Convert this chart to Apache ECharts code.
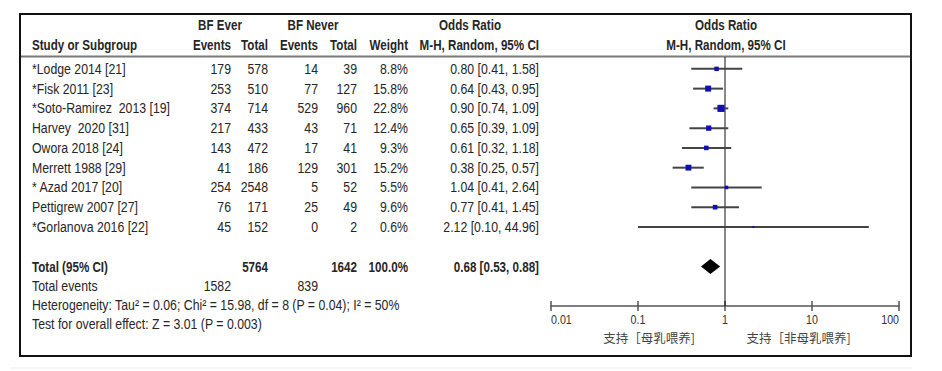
<!DOCTYPE html>
<html><head><meta charset="utf-8">
<script src="https://cdn.jsdelivr.net/npm/echarts@6/dist/echarts.min.js"></script>
<style>html,body{margin:0;padding:0;background:#fff}#c{width:942px;height:371px}</style>
</head><body><div id="c"></div>
<script>
// ---------- data ----------
const studies = ['*Lodge 2014 [21]', '*Fisk 2011 [23]', '*Soto-Ramirez  2013 [19]', 'Harvey  2020 [31]', 'Owora 2018 [24]', 'Merrett 1988 [29]', '* Azad 2017 [20]', 'Pettigrew 2007 [27]', '*Gorlanova 2016 [22]'];
const everEvents = [179, 253, 374, 217, 143, 41, 254, 76, 45];
const everTotal = [578, 510, 714, 433, 472, 186, 2548, 171, 152];
const neverEvents = [14, 77, 529, 43, 17, 129, 5, 25, 0];
const neverTotal = [39, 127, 960, 71, 41, 301, 52, 49, 2];
const weights = [8.8, 15.8, 22.8, 12.4, 9.3, 15.2, 5.5, 9.6, 0.6];
const oddsRatio = [0.80, 0.64, 0.90, 0.65, 0.61, 0.38, 1.04, 0.77, 2.12];
const ciLow = [0.41, 0.43, 0.74, 0.39, 0.32, 0.25, 0.41, 0.41, 0.10];
const ciHigh = [1.58, 0.95, 1.09, 1.09, 1.18, 0.57, 2.64, 1.45, 44.96];
const totalOR = [0.68, 0.53, 0.88];
const totalEver = 5764, totalNever = 1642, totalWeight = '100.0%';
const eventsEver = 1582, eventsNever = 839;
const heterogeneity = 'Heterogeneity: Tau² = 0.06; Chi² = 15.98, df = 8 (P = 0.04); I² = 50%';
const overallTest = 'Test for overall effect: Z = 3.01 (P = 0.003)';
const axisTicks = [0.01, 0.1, 1, 10, 100];
const favourLeft = '支持［母乳喂养]';
const favourRight = '支持［非母乳喂养]';

// ---------- layout ----------
const FONT = '"Liberation Sans",Arial,sans-serif';
const CJK = '"Noto Sans CJK SC",sans-serif';
const FS = 15, NARROW = 0.82, NARROW_BOLD = 0.775;
const TXT = '#262626';
const col = {name: 32, evE: 231, totE: 268, evN: 318, totN: 357, w: 408, or: 539, hdrEver: 220, hdrNever: 313, hdrOR: 470, plotHdr: 726, favL: 649, favR: 798.5};
const ROW_H1 = -2.22, ROW_H2 = -1.2, ROW_TOTAL = 10, ROW_EVENTS = 11, ROW_HET = 11.97, ROW_TEST = 12.93, ROW_FAV = 13.57;
const Y_MIN = -0.6, Y_MAX = 12;
const gridTop = 57, gridBottom = 65;

const fmt2 = v => v.toFixed(2);
const fmtCI = (o, l, h) => fmt2(o) + ' [' + fmt2(l) + ', ' + fmt2(h) + ']';

// table text cells: [x, row, text, align, kind]  kind: 0 normal, 1 bold, 2 cjk
const cells = [];
function cell(x, row, text, align, kind) { cells.push([x, row, String(text), align, kind || 0]); }
cell(col.hdrEver, ROW_H1, 'BF Ever', 'center', 1);
cell(col.hdrNever, ROW_H1, 'BF Never', 'center', 1);
cell(col.hdrOR, ROW_H1, 'Odds Ratio', 'center', 1);
cell(col.plotHdr, ROW_H1, 'Odds Ratio', 'center', 1);
cell(col.name, ROW_H2, 'Study or Subgroup', 'left', 1);
cell(col.evE, ROW_H2, 'Events', 'right', 1);
cell(col.totE, ROW_H2, 'Total', 'right', 1);
cell(col.evN, ROW_H2, 'Events', 'right', 1);
cell(col.totN, ROW_H2, 'Total', 'right', 1);
cell(col.w, ROW_H2, 'Weight', 'right', 1);
cell(col.or, ROW_H2, 'M-H, Random, 95% CI', 'right', 1);
cell(col.plotHdr, ROW_H2, 'M-H, Random, 95% CI', 'center', 1);
studies.forEach((s, i) => {
  cell(col.name, i, s, 'left');
  cell(col.evE, i, everEvents[i], 'right');
  cell(col.totE, i, everTotal[i], 'right');
  cell(col.evN, i, neverEvents[i], 'right');
  cell(col.totN, i, neverTotal[i], 'right');
  cell(col.w, i, weights[i].toFixed(1) + '%', 'right');
  cell(col.or, i, fmtCI(oddsRatio[i], ciLow[i], ciHigh[i]), 'right');
});
cell(col.name, ROW_TOTAL, 'Total (95% CI)', 'left', 1);
cell(col.totE, ROW_TOTAL, totalEver, 'right', 1);
cell(col.totN, ROW_TOTAL, totalNever, 'right', 1);
cell(col.w, ROW_TOTAL, totalWeight, 'right', 1);
cell(col.or, ROW_TOTAL, fmtCI(totalOR[0], totalOR[1], totalOR[2]), 'right', 1);
cell(col.name, ROW_EVENTS, 'Total events', 'left');
cell(col.evE, ROW_EVENTS, eventsEver, 'right');
cell(col.evN, ROW_EVENTS, eventsNever, 'right');
cell(col.name, ROW_HET, heterogeneity, 'left');
cell(col.name, ROW_TEST, overallTest, 'left');
cell(col.favL, ROW_FAV, favourLeft, 'center', 2);
cell(col.favR, ROW_FAV, favourRight, 'center', 2);

const forestData = studies.map((s, i) => [oddsRatio[i], i, ciLow[i], ciHigh[i], weights[i]]);

const chart = echarts.init(document.getElementById('c'), null, {renderer: 'svg'});
chart.setOption({
  animation: false,
  backgroundColor: '#fff',
  grid: [
    {left: 0, right: 0, top: gridTop, bottom: gridBottom},
    {left: 551, right: 43, top: gridTop, bottom: gridBottom}
  ],
  xAxis: [
    {gridIndex: 0, type: 'value', min: 0, max: 942, show: false},
    {gridIndex: 1, type: 'log', logBase: 10, min: 0.01, max: 100, position: 'bottom',
      axisLine: {show: true, onZero: false, lineStyle: {color: '#555', width: 1.5}},
      axisTick: {show: true, inside: false, length: 5, lineStyle: {color: '#555', width: 1.5}},
      axisLabel: {show: false},
      splitLine: {show: false}},
    {gridIndex: 1, type: 'log', logBase: 10, min: 0.01, max: 100, position: 'bottom',
      axisLine: {show: false, onZero: false},
      axisTick: {show: true, inside: true, length: 5, lineStyle: {color: '#555', width: 1.5}},
      axisLabel: {show: false}, splitLine: {show: false}}
  ],
  yAxis: [
    {gridIndex: 0, type: 'value', inverse: true, min: Y_MIN, max: Y_MAX, show: false},
    {gridIndex: 1, type: 'value', inverse: true, min: Y_MIN, max: Y_MAX, show: false}
  ],
  graphic: [
    {type: 'line', shape: {x1: 10, y1: 368, x2: 912, y2: 368}, style: {stroke: '#ececec', lineWidth: 1}, z: 0},
    {type: 'rect', shape: {x: 20, y: 14, width: 891, height: 342}, style: {fill: 'none', stroke: '#111', lineWidth: 2}, z: 0},
    {type: 'line', shape: {x1: 21, y1: 56.5, x2: 910, y2: 56.5}, style: {stroke: '#7a7a7a', lineWidth: 2}, z: 1}
  ],
  series: [
    {
      type: 'custom', xAxisIndex: 0, yAxisIndex: 0, clip: false, silent: true,
      data: cells,
      renderItem: (params, api) => {
        const c = cells[params.dataIndex];
        const p = api.coord([c[0], c[1]]);
        const cjk = c[4] === 2, bold = c[4] === 1;
        return {type: 'text', x: p[0], y: p[1], scaleX: cjk ? 1 : (bold ? NARROW_BOLD : NARROW), style: {
          text: c[2], textAlign: c[3], textVerticalAlign: 'middle',
          font: cjk ? ('12.5px ' + CJK) : ((bold ? 'bold ' : '') + FS + 'px ' + FONT),
          fill: cjk ? '#444' : TXT}};
      }
    },
    {
      // tick labels of the log axis, placed at their values on the axis scale
      type: 'custom', xAxisIndex: 1, yAxisIndex: 1, clip: false, silent: true,
      data: axisTicks.map((t, i) => [t, Y_MAX, i]),
      renderItem: (params, api) => {
        const p = api.coord([api.value(0), api.value(1)]);
        const i = api.value(2);
        const align = i === 0 ? 'left' : (i === axisTicks.length - 1 ? 'right' : 'center');
        return {type: 'text', x: p[0], y: p[1] + 14, scaleX: NARROW, style: {
          text: String(axisTicks[i]), textAlign: align, textVerticalAlign: 'middle',
          font: '13px ' + FONT, fill: '#333'}};
      }
    },
    {
      // line of no effect at OR = 1
      type: 'custom', xAxisIndex: 1, yAxisIndex: 1, clip: false, silent: true,
      data: [[1]],
      renderItem: (params, api) => {
        const a = api.coord([api.value(0), Y_MIN]);
        const b = api.coord([api.value(0), Y_MAX]);
        return {type: 'line', shape: {x1: a[0], y1: a[1], x2: b[0], y2: b[1]}, style: {stroke: '#111', lineWidth: 1}};
      }
    },
    {
      type: 'custom', xAxisIndex: 1, yAxisIndex: 1, clip: false, silent: true,
      data: forestData,
      renderItem: (params, api) => {
        const y = api.value(1);
        const p = api.coord([api.value(0), y]);
        const l = api.coord([api.value(2), y]);
        const h = api.coord([api.value(3), y]);
        const s = Math.max(2, Math.sqrt(api.value(4)) * 1.5);
        return {type: 'group', children: [
          {type: 'line', shape: {x1: l[0], y1: p[1], x2: h[0], y2: p[1]}, style: {stroke: '#444', lineWidth: 2}},
          {type: 'rect', shape: {x: p[0] - s / 2, y: p[1] - s / 2, width: s, height: s}, style: {fill: '#1010b0'}}
        ]};
      }
    },
    {
      type: 'custom', xAxisIndex: 1, yAxisIndex: 1, clip: false, silent: true,
      data: [[totalOR[0], ROW_TOTAL, totalOR[1], totalOR[2]]],
      renderItem: (params, api) => {
        const y = api.value(1);
        const p = api.coord([api.value(0), y]);
        const l = api.coord([api.value(2), y]);
        const h = api.coord([api.value(3), y]);
        const hh = 7.5;
        return {type: 'polygon', shape: {points: [[l[0], p[1]], [p[0], p[1] - hh], [h[0], p[1]], [p[0], p[1] + hh]]}, style: {fill: '#000'}};
      }
    }
  ]
});
</script></body></html>
